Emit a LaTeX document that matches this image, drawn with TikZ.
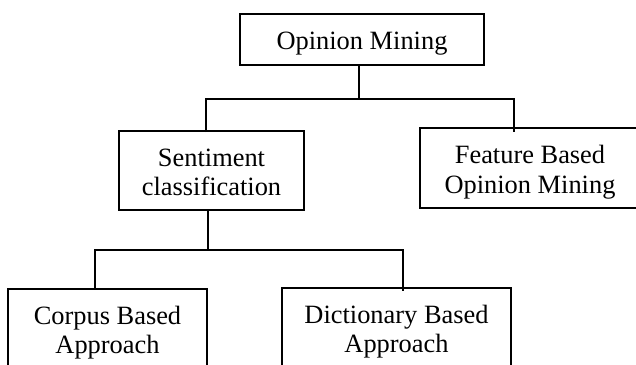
\documentclass[tikz,border=0pt]{standalone}
\usepackage{fontspec}
\setmainfont{Liberation Serif}
\begin{document}
\begin{tikzpicture}[x=1pt, y=-1pt,
  box/.style={draw, line width=1.8pt, inner sep=0pt, align=center,
    text height=50pt, text depth=0pt,
    font=\fontsize{26.4}{29.5}\selectfont},
  onebox/.style={box, text height=19pt},
  conn/.style={line width=1.8pt}]
\useasboundingbox (0,0) rectangle (636,364);
\clip (0,0) rectangle (636,364);
% boxes
\node[onebox, minimum width=244pt, minimum height=51pt] (om) at (362,39.5) {Opinion Mining};
\node[box, minimum width=185pt, minimum height=79pt] (sc) at (211.5,170.5) {Sentiment\\classification};
\node[box, minimum width=220pt, minimum height=80pt] (fb) at (530,168) {Feature Based\\Opinion Mining};
\node[box, minimum width=199pt, minimum height=79pt] (cb) at (107.5,328.5) {Corpus Based\\Approach};
\node[box, minimum width=229pt, minimum height=79pt] (db) at (396.5,327.5) {Dictionary Based\\Approach};
% first level connectors
\coordinate (b1l) at (206,99);
\coordinate (b1r) at (514,99);
\coordinate (b1m) at (359,99);
\draw[conn] (om.south -| b1m) -- (b1m);
\draw[conn] ([yshift=-2pt]b1l |- sc.north) -- (b1l) -- (b1r) -- ([yshift=-5pt]b1r |- fb.north);
% second level connectors
\coordinate (b2l) at (95,250);
\coordinate (b2r) at (403,250);
\coordinate (b2m) at (208,250);
\draw[conn] (sc.south -| b2m) -- ([yshift=-1pt]b2m);
\draw[conn] (b2l |- cb.north) -- (b2l) -- (b2r) -- ([yshift=-4pt]b2r |- db.north);
\end{tikzpicture}
\end{document}
